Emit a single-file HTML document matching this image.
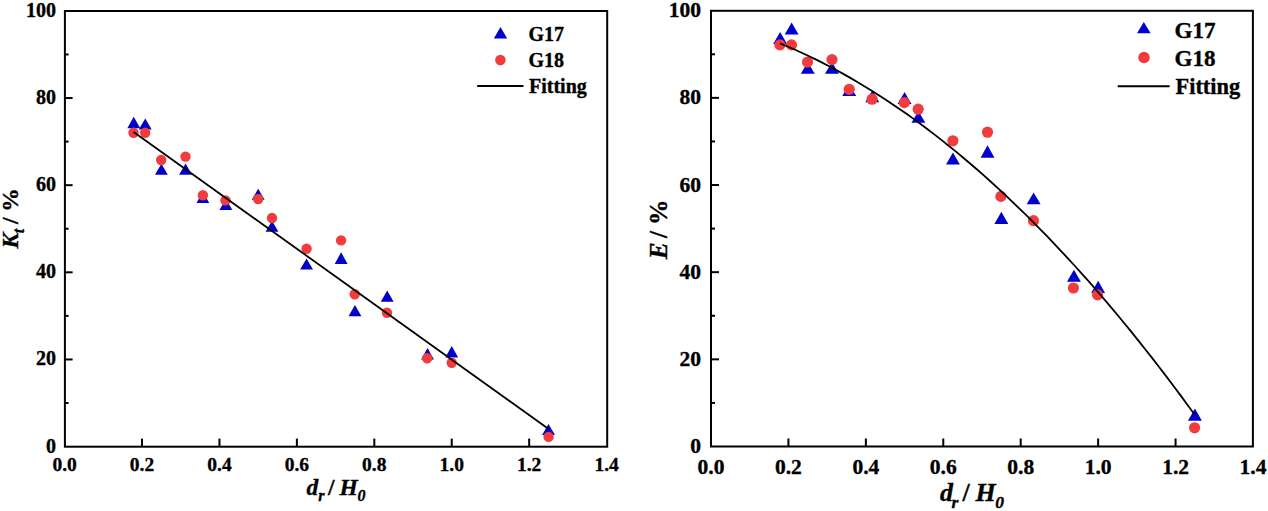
<!DOCTYPE html>
<html><head><meta charset="utf-8"><style>
html,body{margin:0;padding:0;background:#fff;width:1268px;height:511px;overflow:hidden}
svg{display:block}
text{stroke:#000;stroke-width:0.35px;paint-order:stroke}
</style></head><body>
<svg width="1268" height="511" viewBox="0 0 1268 511">
<rect width="1268" height="511" fill="#fff"/>
<rect x="64.90" y="11.00" width="542.30" height="435.70" fill="none" stroke="#000" stroke-width="2"/>
<line x1="142.03" y1="446.60" x2="142.03" y2="438.60" stroke="#000" stroke-width="2"/>
<line x1="219.46" y1="446.60" x2="219.46" y2="438.60" stroke="#000" stroke-width="2"/>
<line x1="296.88" y1="446.60" x2="296.88" y2="438.60" stroke="#000" stroke-width="2"/>
<line x1="374.31" y1="446.60" x2="374.31" y2="438.60" stroke="#000" stroke-width="2"/>
<line x1="451.74" y1="446.60" x2="451.74" y2="438.60" stroke="#000" stroke-width="2"/>
<line x1="529.17" y1="446.60" x2="529.17" y2="438.60" stroke="#000" stroke-width="2"/>
<line x1="64.60" y1="403.03" x2="68.60" y2="403.03" stroke="#000" stroke-width="2"/>
<line x1="64.60" y1="359.46" x2="72.60" y2="359.46" stroke="#000" stroke-width="2"/>
<line x1="64.60" y1="315.89" x2="68.60" y2="315.89" stroke="#000" stroke-width="2"/>
<line x1="64.60" y1="272.32" x2="72.60" y2="272.32" stroke="#000" stroke-width="2"/>
<line x1="64.60" y1="228.75" x2="68.60" y2="228.75" stroke="#000" stroke-width="2"/>
<line x1="64.60" y1="185.18" x2="72.60" y2="185.18" stroke="#000" stroke-width="2"/>
<line x1="64.60" y1="141.61" x2="68.60" y2="141.61" stroke="#000" stroke-width="2"/>
<line x1="64.60" y1="98.04" x2="72.60" y2="98.04" stroke="#000" stroke-width="2"/>
<line x1="64.60" y1="54.47" x2="68.60" y2="54.47" stroke="#000" stroke-width="2"/>
<text x="64.60" y="471.30" text-anchor="middle" style="font-family:'Liberation Serif',serif;font-weight:bold;font-size:19.5px">0.0</text>
<text x="142.03" y="471.30" text-anchor="middle" style="font-family:'Liberation Serif',serif;font-weight:bold;font-size:19.5px">0.2</text>
<text x="219.46" y="471.30" text-anchor="middle" style="font-family:'Liberation Serif',serif;font-weight:bold;font-size:19.5px">0.4</text>
<text x="296.88" y="471.30" text-anchor="middle" style="font-family:'Liberation Serif',serif;font-weight:bold;font-size:19.5px">0.6</text>
<text x="374.31" y="471.30" text-anchor="middle" style="font-family:'Liberation Serif',serif;font-weight:bold;font-size:19.5px">0.8</text>
<text x="451.74" y="471.30" text-anchor="middle" style="font-family:'Liberation Serif',serif;font-weight:bold;font-size:19.5px">1.0</text>
<text x="529.17" y="471.30" text-anchor="middle" style="font-family:'Liberation Serif',serif;font-weight:bold;font-size:19.5px">1.2</text>
<text x="606.60" y="471.30" text-anchor="middle" style="font-family:'Liberation Serif',serif;font-weight:bold;font-size:19.5px">1.4</text>
<text x="56.00" y="452.60" text-anchor="end" style="font-family:'Liberation Serif',serif;font-weight:bold;font-size:20px">0</text>
<text x="56.00" y="365.46" text-anchor="end" style="font-family:'Liberation Serif',serif;font-weight:bold;font-size:20px">20</text>
<text x="56.00" y="278.32" text-anchor="end" style="font-family:'Liberation Serif',serif;font-weight:bold;font-size:20px">40</text>
<text x="56.00" y="191.18" text-anchor="end" style="font-family:'Liberation Serif',serif;font-weight:bold;font-size:20px">60</text>
<text x="56.00" y="104.04" text-anchor="end" style="font-family:'Liberation Serif',serif;font-weight:bold;font-size:20px">80</text>
<text x="56.00" y="16.90" text-anchor="end" style="font-family:'Liberation Serif',serif;font-weight:bold;font-size:20px">100</text>
<polygon points="127.28,128.30 140.18,128.30 133.73,116.70" fill="#0000CC"/>
<polygon points="138.80,129.60 151.70,129.60 145.25,118.50" fill="#0000CC"/>
<polygon points="154.94,174.80 167.83,174.80 161.38,163.80" fill="#0000CC"/>
<polygon points="179.13,174.80 192.03,174.80 185.58,163.50" fill="#0000CC"/>
<polygon points="196.41,203.10 209.31,203.10 202.86,192.10" fill="#0000CC"/>
<polygon points="219.46,210.10 232.36,210.10 225.91,199.10" fill="#0000CC"/>
<polygon points="251.72,199.80 264.62,199.80 258.17,188.80" fill="#0000CC"/>
<polygon points="265.55,231.80 278.45,231.80 272.00,220.80" fill="#0000CC"/>
<polygon points="300.11,269.50 313.01,269.50 306.56,258.50" fill="#0000CC"/>
<polygon points="334.68,263.90 347.58,263.90 341.13,252.30" fill="#0000CC"/>
<polygon points="348.51,316.20 361.41,316.20 354.96,305.00" fill="#0000CC"/>
<polygon points="380.77,301.70 393.67,301.70 387.22,290.50" fill="#0000CC"/>
<polygon points="421.09,359.40 433.99,359.40 427.54,348.10" fill="#0000CC"/>
<polygon points="445.29,357.60 458.19,357.60 451.74,346.10" fill="#0000CC"/>
<polygon points="542.07,434.90 554.98,434.90 548.52,424.00" fill="#0000CC"/>
<circle cx="133.50" cy="132.80" r="5.20" fill="#F03C3C"/>
<circle cx="145.20" cy="132.80" r="5.20" fill="#F03C3C"/>
<circle cx="161.20" cy="160.00" r="5.20" fill="#F03C3C"/>
<circle cx="185.50" cy="156.60" r="5.20" fill="#F03C3C"/>
<circle cx="202.90" cy="195.30" r="5.20" fill="#F03C3C"/>
<circle cx="225.50" cy="200.40" r="5.20" fill="#F03C3C"/>
<circle cx="258.20" cy="199.00" r="5.20" fill="#F03C3C"/>
<circle cx="272.00" cy="218.00" r="5.20" fill="#F03C3C"/>
<circle cx="306.60" cy="248.80" r="5.20" fill="#F03C3C"/>
<circle cx="341.10" cy="240.40" r="5.20" fill="#F03C3C"/>
<circle cx="354.70" cy="294.30" r="5.20" fill="#F03C3C"/>
<circle cx="387.00" cy="312.70" r="5.20" fill="#F03C3C"/>
<circle cx="427.20" cy="358.20" r="5.20" fill="#F03C3C"/>
<circle cx="451.70" cy="362.70" r="5.20" fill="#F03C3C"/>
<circle cx="548.60" cy="436.90" r="5.20" fill="#F03C3C"/>
<line x1="133.6" y1="131.9" x2="548.6" y2="429.0" stroke="#000" stroke-width="1.8"/>
<polygon points="493.85,38.40 507.15,38.40 500.50,26.90" fill="#0000CC"/>
<circle cx="500.40" cy="60.10" r="5.30" fill="#F03C3C"/>
<line x1="477.2" y1="85.9" x2="523.5" y2="85.9" stroke="#000" stroke-width="2"/>
<text x="528.5" y="41" style="font-family:'Liberation Serif',serif;font-weight:bold;font-size:20px">G17</text>
<text x="528.5" y="67" style="font-family:'Liberation Serif',serif;font-weight:bold;font-size:20px">G18</text>
<text x="529" y="92.6" style="font-family:'Liberation Serif',serif;font-weight:bold;font-size:20px">Fitting</text>
<rect x="711.00" y="10.80" width="541.90" height="435.70" fill="none" stroke="#000" stroke-width="2"/>
<line x1="788.43" y1="446.50" x2="788.43" y2="438.50" stroke="#000" stroke-width="2"/>
<line x1="865.86" y1="446.50" x2="865.86" y2="438.50" stroke="#000" stroke-width="2"/>
<line x1="943.28" y1="446.50" x2="943.28" y2="438.50" stroke="#000" stroke-width="2"/>
<line x1="1020.71" y1="446.50" x2="1020.71" y2="438.50" stroke="#000" stroke-width="2"/>
<line x1="1098.14" y1="446.50" x2="1098.14" y2="438.50" stroke="#000" stroke-width="2"/>
<line x1="1175.57" y1="446.50" x2="1175.57" y2="438.50" stroke="#000" stroke-width="2"/>
<line x1="711.00" y1="402.92" x2="715.00" y2="402.92" stroke="#000" stroke-width="2"/>
<line x1="711.00" y1="359.34" x2="719.00" y2="359.34" stroke="#000" stroke-width="2"/>
<line x1="711.00" y1="315.76" x2="715.00" y2="315.76" stroke="#000" stroke-width="2"/>
<line x1="711.00" y1="272.18" x2="719.00" y2="272.18" stroke="#000" stroke-width="2"/>
<line x1="711.00" y1="228.60" x2="715.00" y2="228.60" stroke="#000" stroke-width="2"/>
<line x1="711.00" y1="185.02" x2="719.00" y2="185.02" stroke="#000" stroke-width="2"/>
<line x1="711.00" y1="141.44" x2="715.00" y2="141.44" stroke="#000" stroke-width="2"/>
<line x1="711.00" y1="97.86" x2="719.00" y2="97.86" stroke="#000" stroke-width="2"/>
<line x1="711.00" y1="54.28" x2="715.00" y2="54.28" stroke="#000" stroke-width="2"/>
<text x="711.00" y="473.60" text-anchor="middle" style="font-family:'Liberation Serif',serif;font-weight:bold;font-size:21.5px">0.0</text>
<text x="788.43" y="473.60" text-anchor="middle" style="font-family:'Liberation Serif',serif;font-weight:bold;font-size:21.5px">0.2</text>
<text x="865.86" y="473.60" text-anchor="middle" style="font-family:'Liberation Serif',serif;font-weight:bold;font-size:21.5px">0.4</text>
<text x="943.28" y="473.60" text-anchor="middle" style="font-family:'Liberation Serif',serif;font-weight:bold;font-size:21.5px">0.6</text>
<text x="1020.71" y="473.60" text-anchor="middle" style="font-family:'Liberation Serif',serif;font-weight:bold;font-size:21.5px">0.8</text>
<text x="1098.14" y="473.60" text-anchor="middle" style="font-family:'Liberation Serif',serif;font-weight:bold;font-size:21.5px">1.0</text>
<text x="1175.57" y="473.60" text-anchor="middle" style="font-family:'Liberation Serif',serif;font-weight:bold;font-size:21.5px">1.2</text>
<text x="1253.00" y="473.60" text-anchor="middle" style="font-family:'Liberation Serif',serif;font-weight:bold;font-size:21.5px">1.4</text>
<text x="701.00" y="453.10" text-anchor="end" style="font-family:'Liberation Serif',serif;font-weight:bold;font-size:21.5px">0</text>
<text x="701.00" y="365.94" text-anchor="end" style="font-family:'Liberation Serif',serif;font-weight:bold;font-size:21.5px">20</text>
<text x="701.00" y="278.78" text-anchor="end" style="font-family:'Liberation Serif',serif;font-weight:bold;font-size:21.5px">40</text>
<text x="701.00" y="191.62" text-anchor="end" style="font-family:'Liberation Serif',serif;font-weight:bold;font-size:21.5px">60</text>
<text x="701.00" y="104.46" text-anchor="end" style="font-family:'Liberation Serif',serif;font-weight:bold;font-size:21.5px">80</text>
<text x="701.00" y="17.30" text-anchor="end" style="font-family:'Liberation Serif',serif;font-weight:bold;font-size:21.5px">100</text>
<polygon points="773.18,44.00 787.08,44.00 780.13,32.00" fill="#0000CC"/>
<polygon points="784.70,34.60 798.60,34.60 791.65,22.60" fill="#0000CC"/>
<polygon points="800.83,73.70 814.74,73.70 807.78,61.90" fill="#0000CC"/>
<polygon points="825.03,73.70 838.93,73.70 831.98,61.90" fill="#0000CC"/>
<polygon points="842.31,95.90 856.21,95.90 849.26,84.10" fill="#0000CC"/>
<polygon points="865.36,102.20 879.26,102.20 872.31,90.40" fill="#0000CC"/>
<polygon points="897.62,103.90 911.52,103.90 904.57,91.90" fill="#0000CC"/>
<polygon points="911.45,122.70 925.35,122.70 918.40,110.90" fill="#0000CC"/>
<polygon points="946.01,164.40 959.91,164.40 952.96,152.50" fill="#0000CC"/>
<polygon points="980.58,157.70 994.48,157.70 987.53,145.20" fill="#0000CC"/>
<polygon points="994.40,224.00 1008.31,224.00 1001.36,211.70" fill="#0000CC"/>
<polygon points="1026.67,204.30 1040.57,204.30 1033.62,192.40" fill="#0000CC"/>
<polygon points="1066.99,281.70 1080.89,281.70 1073.94,269.80" fill="#0000CC"/>
<polygon points="1091.19,293.00 1105.09,293.00 1098.14,280.80" fill="#0000CC"/>
<polygon points="1187.97,420.70 1201.88,420.70 1194.92,408.60" fill="#0000CC"/>
<circle cx="779.90" cy="44.90" r="5.60" fill="#F03C3C"/>
<circle cx="791.50" cy="44.90" r="5.60" fill="#F03C3C"/>
<circle cx="807.50" cy="62.10" r="5.60" fill="#F03C3C"/>
<circle cx="832.00" cy="59.60" r="5.60" fill="#F03C3C"/>
<circle cx="849.20" cy="89.30" r="5.60" fill="#F03C3C"/>
<circle cx="872.10" cy="99.20" r="5.60" fill="#F03C3C"/>
<circle cx="904.40" cy="102.60" r="5.60" fill="#F03C3C"/>
<circle cx="918.20" cy="109.20" r="5.60" fill="#F03C3C"/>
<circle cx="952.90" cy="140.80" r="5.60" fill="#F03C3C"/>
<circle cx="987.50" cy="132.20" r="5.60" fill="#F03C3C"/>
<circle cx="1000.90" cy="196.40" r="5.60" fill="#F03C3C"/>
<circle cx="1033.50" cy="220.70" r="5.60" fill="#F03C3C"/>
<circle cx="1073.40" cy="288.00" r="5.60" fill="#F03C3C"/>
<circle cx="1097.60" cy="294.90" r="5.60" fill="#F03C3C"/>
<circle cx="1194.60" cy="427.80" r="5.60" fill="#F03C3C"/>
<path d="M780.00,43.31 L787.03,46.24 L794.05,49.29 L801.08,52.46 L808.11,55.74 L815.14,59.14 L822.16,62.65 L829.19,66.28 L836.22,70.03 L843.24,73.89 L850.27,77.87 L857.30,81.96 L864.33,86.17 L871.35,90.49 L878.38,94.93 L885.41,99.49 L892.43,104.16 L899.46,108.95 L906.49,113.85 L913.52,118.87 L920.54,124.00 L927.57,129.25 L934.60,134.62 L941.62,140.10 L948.65,145.70 L955.68,151.41 L962.71,157.24 L969.73,163.19 L976.76,169.25 L983.79,175.43 L990.81,181.72 L997.84,188.13 L1004.87,194.65 L1011.89,201.29 L1018.92,208.05 L1025.95,214.92 L1032.98,221.91 L1040.00,229.01 L1047.03,236.23 L1054.06,243.56 L1061.08,251.01 L1068.11,258.58 L1075.14,266.26 L1082.17,274.06 L1089.19,281.97 L1096.22,290.00 L1103.25,298.15 L1110.27,306.41 L1117.30,314.78 L1124.33,323.27 L1131.36,331.88 L1138.38,340.61 L1145.41,349.45 L1152.44,358.40 L1159.46,367.47 L1166.49,376.66 L1173.52,385.96 L1180.55,395.38 L1187.57,404.92 L1194.60,414.57" fill="none" stroke="#000" stroke-width="1.8"/>
<polygon points="1137.00,33.20 1150.60,33.20 1143.80,22.00" fill="#0000CC"/>
<circle cx="1144.00" cy="57.50" r="5.80" fill="#F03C3C"/>
<line x1="1117.7" y1="86.3" x2="1169.6" y2="86.3" stroke="#000" stroke-width="2"/>
<text x="1174.6" y="37.5" style="font-family:'Liberation Serif',serif;font-weight:bold;font-size:23.1px">G17</text>
<text x="1174.6" y="65.7" style="font-family:'Liberation Serif',serif;font-weight:bold;font-size:23.1px">G18</text>
<text x="1175.5" y="94.2" style="font-family:'Liberation Serif',serif;font-weight:bold;font-size:22.4px">Fitting</text>
<text x="306.60" y="495.30" style="font-family:'Liberation Serif',serif;font-weight:bold;font-style:italic;font-size:23.5px" >d</text>
<text x="318.20" y="501.00" style="font-family:'Liberation Serif',serif;font-weight:bold;font-style:italic;font-size:16px" >r</text>
<text x="328.10" y="495.00" style="font-family:'Liberation Serif',serif;font-weight:bold;font-size:23.5px" >/</text>
<text x="339.60" y="495.40" style="font-family:'Liberation Serif',serif;font-weight:bold;font-style:italic;font-size:23.5px" >H</text>
<text x="357.60" y="501.00" style="font-family:'Liberation Serif',serif;font-weight:bold;font-style:italic;font-size:16px" >0</text>
<text x="939.90" y="501.00" style="font-family:'Liberation Serif',serif;font-weight:bold;font-style:italic;font-size:26px" >d</text>
<text x="951.50" y="507.60" style="font-family:'Liberation Serif',serif;font-weight:bold;font-style:italic;font-size:17.5px" >r</text>
<text x="962.40" y="501.00" style="font-family:'Liberation Serif',serif;font-weight:bold;font-size:26px" >/</text>
<text x="975.50" y="500.90" style="font-family:'Liberation Serif',serif;font-weight:bold;font-style:italic;font-size:26px" >H</text>
<text x="995.30" y="507.90" style="font-family:'Liberation Serif',serif;font-weight:bold;font-style:italic;font-size:17.5px" >0</text>
<text transform="rotate(-90)" x="-248.60" y="18.40" style="font-family:'Liberation Serif',serif;font-weight:bold;font-style:italic;font-size:23.5px">K</text>
<text transform="rotate(-90)" x="-233.30" y="23.90" style="font-family:'Liberation Serif',serif;font-weight:bold;font-style:italic;font-size:16px">t</text>
<text transform="rotate(-90)" x="-224.00" y="18.40" style="font-family:'Liberation Serif',serif;font-weight:bold;font-size:23.5px">/</text>
<text transform="rotate(-90)" x="-211.80" y="18.40" style="font-family:'Liberation Serif',serif;font-weight:bold;font-size:23.5px">%</text>
<text transform="rotate(-90)" x="-259.30" y="666.60" style="font-family:'Liberation Serif',serif;font-weight:bold;font-style:italic;font-size:25.5px">E</text>
<text transform="rotate(-90)" x="-238.00" y="666.60" style="font-family:'Liberation Serif',serif;font-weight:bold;font-size:25.5px">/</text>
<text transform="rotate(-90)" x="-225.00" y="666.60" style="font-family:'Liberation Serif',serif;font-weight:bold;font-size:25.5px">%</text>
</svg>
</body></html>
